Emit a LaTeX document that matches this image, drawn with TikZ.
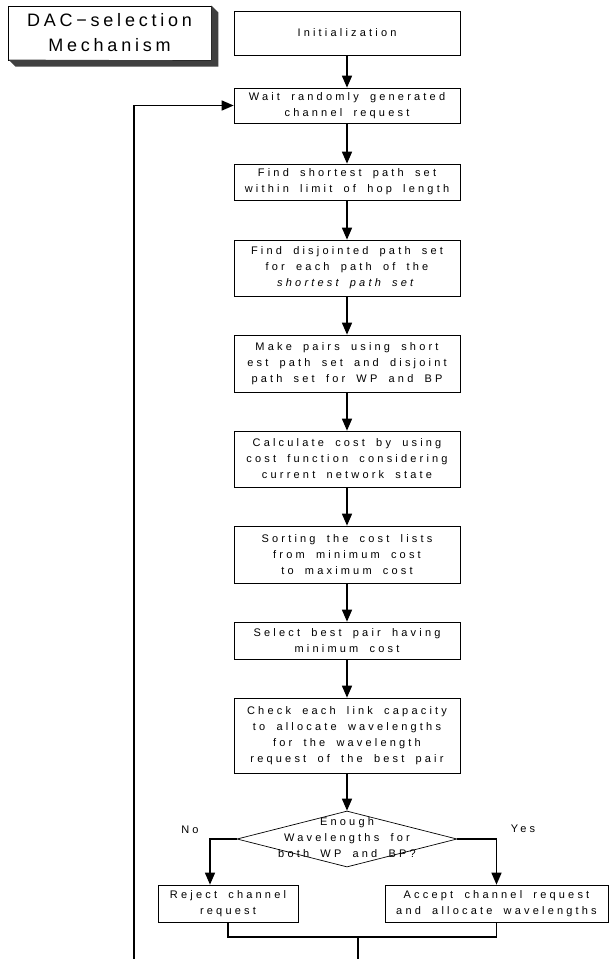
\documentclass[tikz,border=0pt]{standalone}
\usepackage{fontspec}
\setmainfont{Liberation Sans}
\newfontfamily\boxfont{Liberation Sans}[LetterSpace=29, WordSpace=1.8]
\newfontfamily\ttlfont{Liberation Sans}[LetterSpace=21]
\usetikzlibrary{arrows.meta,shapes.geometric,calc}
\begin{document}
\begin{tikzpicture}[x=1pt,y=-1pt,
  box/.style={draw, line width=0.7pt, minimum width=226pt, inner sep=0pt, align=center,
    font=\boxfont\fontsize{11}{16}\selectfont},
  arr/.style={line width=1.5pt, -{Triangle[length=12pt,width=10pt]}},
  ln/.style={line width=1.4pt},
  lbl/.style={font=\boxfont\fontsize{11}{16}\selectfont, inner sep=0pt},
  shade3d/.style={fill=black!75}]
\fill[white] (0,0) rectangle (611,959);
\useasboundingbox (0,0) rectangle (611,959);

% title box
\node[draw, line width=0.8pt, minimum width=203pt, minimum height=54pt, inner sep=0pt,
  align=center, font=\ttlfont\fontsize{18}{25}\selectfont] (dac) at (109.5,33) {DAC−selection\\Mechanism};
\fill[shade3d] (dac.north east) -- ++(7,7) -- ++(0,54) -- ++(-203,0) -- ++(-7,-7) -- (dac.south east) -- cycle;

% process boxes
\node[box, minimum height=44pt] (init) at (347,33) {Initialization};
\node[box, minimum height=35pt] (wait) at (347,105.5) {Wait randomly generated\\channel request};
\node[box, minimum height=36pt] (short) at (347,182) {Find shortest path set\\within limit of hop length};
\node[box, minimum height=56pt] (disj) at (347,268) {Find disjointed path set\\for each path of the\\\textit{shortest path set}};
\node[box, minimum height=57pt] (pairs) at (347,363.5) {Make pairs using short\\est path set and disjoint\\path set for WP and BP};
\node[box, minimum height=56pt] (calc) at (347,459) {Calculate cost by using\\cost function considering\\current network state};
\node[box, minimum height=57pt] (sort) at (347,554.5) {Sorting the cost lists\\from minimum cost\\to maximum cost};
\node[box, minimum height=37pt] (sel) at (347,640.5) {Select best pair having\\minimum cost};
\node[box, minimum height=75pt] (check) at (347,735.5) {Check each link capacity\\to allocate wavelengths\\for the wavelength\\request of the best pair};

% decision
\node[diamond, draw, line width=0.7pt, minimum width=220pt, minimum height=56pt, inner sep=0pt] (dec) at (347,839) {};
\node[lbl, align=center] (dectxt) at (347,838) {Enough\\Wavelengths for\\both WP and BP?};

\node[box, minimum width=140pt, minimum height=37pt] (rej) at (228,903.5) {Reject channel\\request};
\node[box, minimum width=223pt, minimum height=37pt] (acc) at (496.5,903.5) {Accept channel request\\and allocate wavelengths};

\node[lbl] (no) at (190,830) {No};
\node[lbl] (yes) at (523,829) {Yes};

% connectors
\draw[arr] (init) -- (wait);
\draw[arr] (wait) -- (short);
\draw[arr] (short) -- (disj);
\draw[arr] (disj) -- (pairs);
\draw[arr] (pairs) -- (calc);
\draw[arr] (calc) -- (sort);
\draw[arr] (sort) -- (sel);
\draw[arr] (sel) -- (check);
\draw[arr] (check) -- (dec);
\draw[arr] (dec.west) -| ([xshift=-18pt]rej.north);
\draw[arr] (dec.east) -| (acc.north);

\coordinate (mrg) at (358,937);
\coordinate (bot) at (358,959);
\coordinate (loopb) at (134,959);
\coordinate (loopt) at (134,105.5);
\draw[ln] (rej.south) |- (mrg) -| (acc.south);
\draw[ln] (mrg) -- (bot);
\draw[arr] (loopb) -- (loopt) -- (wait.west);
\end{tikzpicture}
\end{document}
